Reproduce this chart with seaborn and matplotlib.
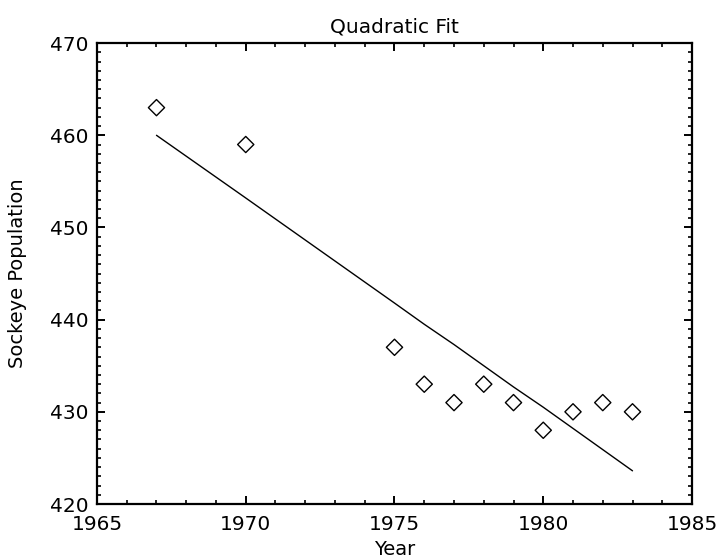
import matplotlib
matplotlib.use("Agg")
import matplotlib.pyplot as plt
from matplotlib.ticker import MultipleLocator
import seaborn as sns
import pandas as pd

# Observed sockeye counts by year
years = [1967, 1970, 1975, 1976, 1977, 1978, 1979, 1980, 1981, 1982, 1983]
population = [463, 459, 437, 433, 431, 433, 431, 428, 430, 431, 430]

# Fitted curve evaluated at the same years
fit_values = [460.0, 453.2, 441.8, 439.5, 437.3, 435.0, 432.7, 430.5, 428.2, 425.9, 423.6]

x_ticks = [1965, 1970, 1975, 1980, 1985]
y_ticks = [420, 430, 440, 450, 460, 470]

sns.set_style("ticks")
plt.rcParams["font.family"] = ["DejaVu Sans"]
plt.rcParams["text.color"] = "black"
plt.rcParams["axes.labelcolor"] = "black"

obs = pd.DataFrame({"Year": years, "Population": population})
fit = pd.DataFrame({"Year": years, "Fit": fit_values})

fig = plt.figure(figsize=(7.21, 5.60), dpi=100)
ax = fig.add_axes([0.1345, 0.100, 0.8253, 0.823])

sns.scatterplot(data=obs, x="Year", y="Population", ax=ax, marker="D",
                s=68, facecolor="none", edgecolor="black", linewidth=1.0,
                zorder=3)
sns.lineplot(data=fit, x="Year", y="Fit", ax=ax, color="black",
             linewidth=1.0, zorder=2)

ax.set_xlim(1965, 1985)
ax.set_ylim(420, 470)
ax.set_xticks(x_ticks)
ax.set_yticks(y_ticks)
ax.xaxis.set_minor_locator(MultipleLocator(1))
ax.yaxis.set_minor_locator(MultipleLocator(1))

ax.tick_params(which="both", direction="in", top=True, right=True,
               colors="black", labelsize=14.5)
ax.tick_params(which="major", length=6, width=1.4)
ax.tick_params(which="minor", length=3, width=1.2)
ax.tick_params(axis="x", which="major", pad=8)
ax.tick_params(axis="y", which="major", pad=6)

for spine in ax.spines.values():
    spine.set_visible(True)
    spine.set_linewidth(1.6)
    spine.set_color("black")

ax.set_title("Quadratic Fit", fontsize=14.5, pad=8, color="black")
ax.set_xlabel("Year", fontsize=14, color="black")
ax.set_ylabel("Sockeye Population", fontsize=14, color="black")
ax.xaxis.set_label_coords(0.5, -0.078)
ax.yaxis.set_label_coords(-0.118, 0.5)

fig.savefig("out.png", dpi=100, facecolor="white")
